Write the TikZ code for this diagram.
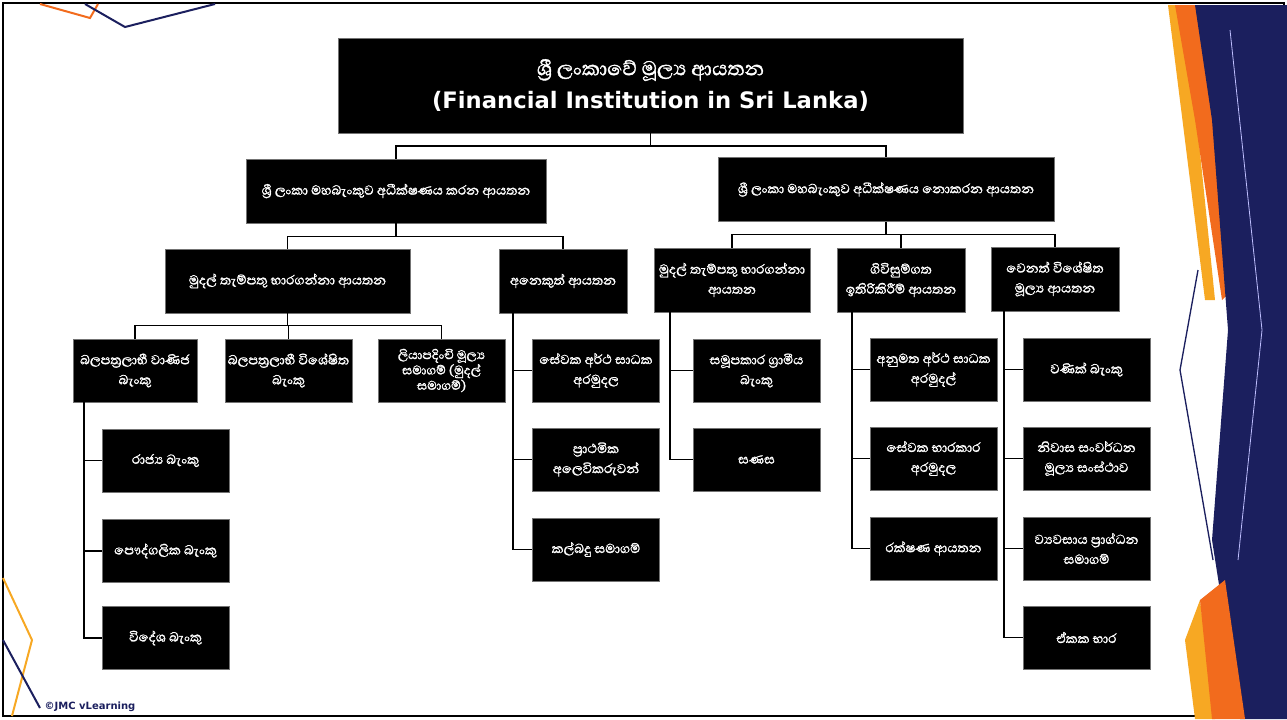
\documentclass[tikz,border=0pt]{standalone}
\usepackage{fontspec}
\newfontfamily\sinfont[Script=Sinhala,FakeBold=1.4]{Abhaya Libre}
\newfontfamily\latfont{DejaVu Sans}
\usetikzlibrary{positioning}
\definecolor{jmcnavy}{HTML}{1B1F5E}
\definecolor{jmcorange}{HTML}{F26B1D}
\definecolor{jmcgold}{HTML}{F7A823}

\begin{document}
\begin{tikzpicture}[
  x=0.75pt,y=-0.75pt,
  box/.style={fill=black,draw=black!55,text=white,align=center,
    inner sep=1pt,font=\sinfont\fontsize{12.5}{15}\selectfont},
  head/.style={box,minimum width=96pt,minimum height=48pt},
  leaf/.style={box,minimum width=95pt,minimum height=47pt},
  link/.style={draw,line width=1pt}
]
  \useasboundingbox (0,0) rectangle (1287,719);
  % slide frame and decoration
  \draw[line width=1pt] (3,3) rectangle (1284,716);
  \draw[jmcorange,line width=1.5pt] (40,4) -- (90,18) -- (98,4);
  \draw[jmcnavy,line width=1.5pt] (85,4) -- (125,27) -- (215,4);
  \draw[jmcgold,line width=1.5pt] (3,578) -- (32,640) -- (12,716);
  \draw[jmcnavy,line width=1.5pt] (3,640) -- (40,708);
  \fill[jmcgold] (1168,5) -- (1185,5) -- (1215,300) -- (1205,300) -- cycle;
  \fill[jmcorange] (1175,5) -- (1212,5) -- (1232,290) -- (1222,300) -- (1195,120) -- cycle;
  \fill[jmcnavy] (1195,5) -- (1287,5) -- (1287,719) -- (1240,719)
    -- (1212,540) -- (1228,330) -- (1212,120) -- cycle;
  \fill[jmcgold] (1185,640) -- (1200,600) -- (1215,719) -- (1195,719) -- cycle;
  \fill[jmcorange] (1200,600) -- (1225,580) -- (1245,719) -- (1212,719) -- cycle;
  \draw[jmcnavy,line width=1pt] (1198,270) -- (1180,370) -- (1213,560);
  \draw[blue!25,line width=0.6pt] (1230,30) -- (1262,330) -- (1238,560);
  \node[font=\latfont\bfseries\fontsize{7.5}{9}\selectfont,text=jmcnavy,anchor=west]
    (brand) at (40,707) {©JMC vLearning};

  % top of the tree
  \node[box,minimum width=469pt,minimum height=71pt] (root) at (650.5,85.5)
    {{\fontsize{19}{22}\selectfont ශ්‍රී ලංකාවේ මූල්‍ය ආයතන}\\[7pt]
     {\latfont\bfseries\fontsize{17}{19}\selectfont (Financial Institution in Sri Lanka)}};
  \node[box,minimum width=225pt,minimum height=48pt] (sup) at (396,191)
    {ශ්‍රී ලංකා මහබැංකුව අධීක්ෂණය කරන ආයතන};
  \node[box,minimum width=252pt,minimum height=48pt] (nsup) at (886,189.5)
    {ශ්‍රී ලංකා මහබැංකුව අධීක්ෂණය නොකරන ආයතන};

  % second level
  \node[box,minimum width=184pt,minimum height=48pt] (depa) at (287.5,281)
    {මුදල් තැම්පතු භාරගන්නා ආයතන};
  \node[head] (other) at (563,281) {අනෙකුත් ආයතන};
  \node[box,minimum width=117pt,minimum height=48pt] (depb) at (732,280)
    {මුදල් තැම්පතු භාරගන්නා\\ආයතන};
  \node[head] (contr) at (901,280) {ගිවිසුම්ගත\\ඉතිරිකිරීම් ආයතන};
  \node[head] (spec) at (1055,279) {වෙනත් විශේෂිත\\මූල්‍ය ආයතන};

  % banks
  \node[box,minimum width=93pt,minimum height=47pt] (lcb) at (135,370.5)
    {බලපත්‍රලාභී වාණිජ\\බැංකු};
  \node[leaf] (lsb) at (288.5,370.5) {බලපත්‍රලාභී විශේෂිත\\බැංකු};
  \node[leaf,font=\sinfont\fontsize{12}{11.5}\selectfont] (rfc) at (441.5,370.5)
    {ලියාපදිංචි මූල්‍ය\\සමාගම් (මුදල්\\සමාගම්)};

  % leaves
  \node[leaf] (state) at (165.5,460.5) {රාජ්‍ය බැංකු};
  \node[leaf] (priv) at (165.5,551) {පෞද්ගලික බැංකු};
  \node[leaf] (forgn) at (165.5,638) {විදේශ බැංකු};

  \node[leaf] (epf) at (596,370.5) {සේවක අර්ථ සාධක\\අරමුදල};
  \node[leaf] (pdeal) at (596,459.5) {ප්‍රාථමික\\අලෙවිකරුවන්};
  \node[leaf] (lease) at (596,549.5) {කල්බදු සමාගම්};

  \node[leaf] (coop) at (756.5,370.5) {සමූපකාර ග්‍රාමීය\\බැංකු};
  \node[leaf] (sanasa) at (756.5,459.5) {සණස};

  \node[leaf] (apf) at (933.5,369.5) {අනුමත අර්ථ සාධක\\අරමුදල්};
  \node[leaf] (etf) at (933.5,458.5) {සේවක භාරකාර\\අරමුදල};
  \node[leaf] (insur) at (933.5,548.5) {රක්ෂණ ආයතන};

  \node[leaf] (merch) at (1086.5,369.5) {වණික් බැංකු};
  \node[leaf] (hdfc) at (1086.5,458.5) {නිවාස සංවර්ධන\\මූල්‍ය සංස්ථාව};
  \node[leaf] (vcap) at (1086.5,548.5) {ව්‍යවසාය ප්‍රාග්ධන\\සමාගම්};
  \node[leaf] (unit) at (1086.5,637.5) {ඒකක භාර};

  % connectors
  \draw[link] (root.south) -- ++(0,13) coordinate (j0);
  \draw[link] (j0) -| (sup.north);
  \draw[link] (j0) -| (nsup.north);
  \draw[link] (sup.south) -- ++(0,13) coordinate (j1);
  \draw[link] (j1) -| (depa.north);
  \draw[link] (j1) -| (other.north);
  \draw[link] (nsup.south) -- ++(0,13) coordinate (j2);
  \foreach \n in {depb,contr,spec}
    \draw[link] (j2) -| (\n.north);
  \draw[link] (depa.south) -- ++(0,12) coordinate (j3);
  \foreach \n in {lcb,lsb,rfc}
    \draw[link] (j3) -| (\n.north);

  \coordinate (t1) at (84,402);
  \coordinate (t2) at (513,313);
  \coordinate (t3) at (670,312);
  \coordinate (t4) at (852,312);
  \coordinate (t5) at (1004,311);
  \foreach \n in {state,priv,forgn}
    \draw[link] (t1) |- (\n.west);
  \foreach \n in {epf,pdeal,lease}
    \draw[link] (t2) |- (\n.west);
  \foreach \n in {coop,sanasa}
    \draw[link] (t3) |- (\n.west);
  \foreach \n in {apf,etf,insur}
    \draw[link] (t4) |- (\n.west);
  \foreach \n in {merch,hdfc,vcap,unit}
    \draw[link] (t5) |- (\n.west);
\end{tikzpicture}
\end{document}
